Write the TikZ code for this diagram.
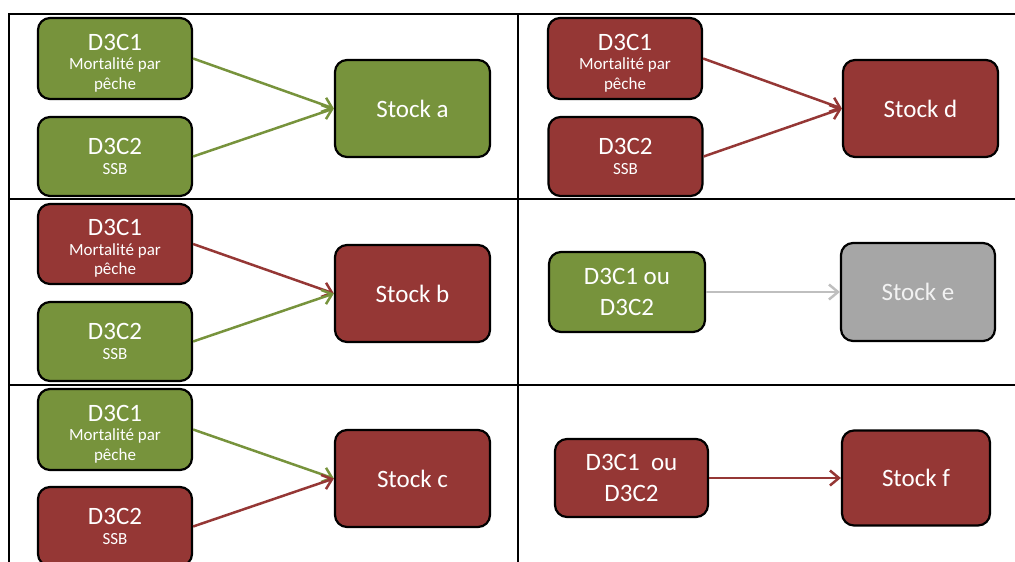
\documentclass[tikz,border=0pt]{standalone}
\usepackage{fontspec}
\setmainfont{Carlito}
\usetikzlibrary{arrows.meta}
\definecolor{okgreen}{HTML}{77933C}
\definecolor{badred}{HTML}{953735}
\definecolor{unkgray}{HTML}{A6A6A6}
\definecolor{arrgray}{HTML}{BFBFBF}
\newcommand{\bigtxt}{\fontsize{25}{31}\selectfont}
\newcommand{\smalltxt}{\fontsize{17}{19.5}\selectfont}
\newcommand{\topstrut}{\rule{0pt}{25pt}}
\tikzset{
  box/.style={draw=black, line width=2.2pt, rounded corners=12pt, inner sep=0pt,
    align=center, text=white, font=\smalltxt, minimum width=154pt, minimum height=80pt},
  stockbox/.style={box, minimum width=155pt, minimum height=97pt, font=\bigtxt},
  twoline/.style={box, font=\bigtxt},
  gbox/.style={fill=okgreen},
  rbox/.style={fill=badred},
  conn/.style={line width=2.5pt, -{Straight Barb[length=9pt,width=15pt,line width=2.5pt]}},
  gridline/.style={line width=2pt, draw=black}
}
\begin{document}
\begin{tikzpicture}[x=1pt,y=-1pt]
\useasboundingbox (0,0) rectangle (1015,562);
% grid
\draw[gridline] (9,562) -- (9,14) -- (1016,14);
\draw[gridline] (518,14) -- (518,562);
\draw[gridline] (9,199) -- (1016,199);
\draw[gridline] (9,385) -- (1016,385);
% panel a
\node[box,gbox,minimum height=81pt] (a1) at (115,58.5) {{\bigtxt\topstrut D3C1}\\Mortalité par\\pêche};
\node[box,gbox,minimum height=79pt] (a2) at (115,156.5) {{\bigtxt D3C2}\\SSB};
\node[stockbox,gbox] (sa) at (412.5,108.5) {Stock a};
\draw[conn,okgreen] (a1.east) -- (sa.west);
\draw[conn,okgreen] (a2.east) -- (sa.west);
% panel d
\node[box,rbox,minimum height=81pt] (d1) at (625,58.5) {{\bigtxt\topstrut D3C1}\\Mortalité par\\pêche};
\node[box,rbox,minimum height=79pt] (d2) at (625.5,156.5) {{\bigtxt D3C2}\\SSB};
\node[stockbox,rbox] (sd) at (920.5,108.5) {Stock d};
\draw[conn,badred] (d1.east) -- (sd.west);
\draw[conn,badred] (d2.east) -- (sd.west);
% panel b
\node[box,rbox] (b1) at (115,244) {{\bigtxt\topstrut D3C1}\\Mortalité par\\pêche};
\node[box,gbox,minimum height=79pt] (b2) at (115,341.5) {{\bigtxt D3C2}\\SSB};
\node[stockbox,rbox] (sb) at (412.5,293.5) {Stock b};
\draw[conn,badred] (b1.east) -- (sb.west);
\draw[conn,okgreen] (b2.east) -- (sb.west);
% panel e
\node[twoline,gbox,minimum width=156pt] (e1) at (627,292) {D3C1 ou\\D3C2};
\node[stockbox,fill=unkgray,text=white!95!black,minimum width=154pt,minimum height=98pt] (se) at (918,292) {Stock e};
\draw[conn,arrgray] (e1.east) -- (se.west);
% panel c
\node[box,gbox,minimum height=81pt] (c1) at (115,429.5) {{\bigtxt\topstrut D3C1}\\Mortalité par\\pêche};
\node[box,rbox,minimum height=79pt] (c2) at (115,526.5) {{\bigtxt D3C2}\\SSB};
\node[stockbox,rbox] (sc) at (412.5,478.5) {Stock c};
\draw[conn,okgreen] (c1.east) -- (sc.west);
\draw[conn,badred] (c2.east) -- (sc.west);
% panel f
\node[twoline,rbox,minimum width=153pt,minimum height=78pt] (f1) at (631.5,478) {D3C1\ \ ou\\D3C2};
\node[stockbox,rbox,minimum width=148pt,minimum height=95pt] (sf) at (916,478) {Stock f};
\draw[conn,badred] (f1.east) -- (sf.west);
\end{tikzpicture}
\end{document}
